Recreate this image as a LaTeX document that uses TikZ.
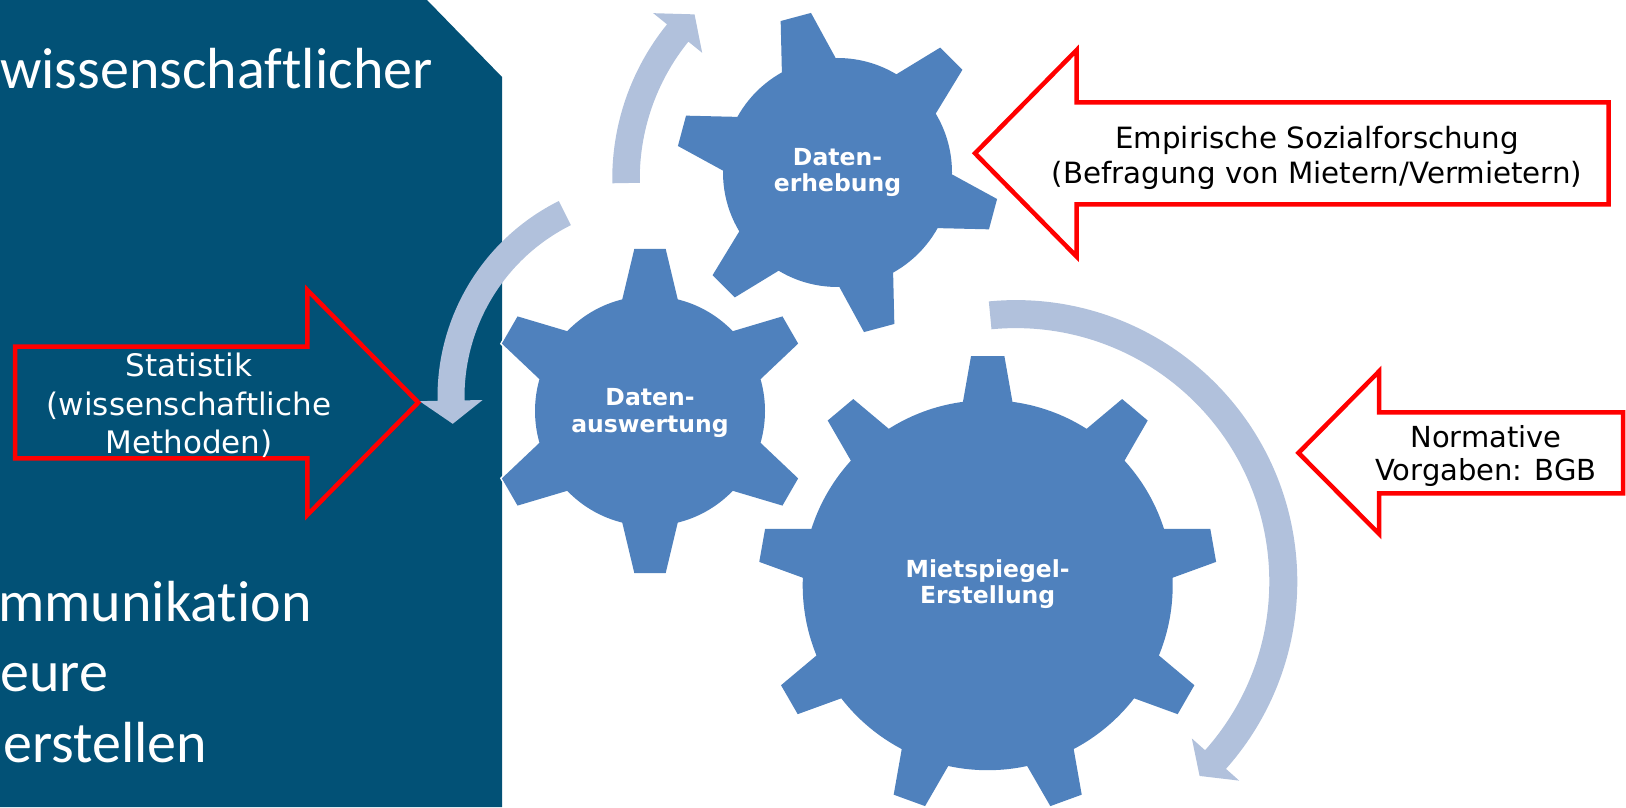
\documentclass[tikz,border=0pt]{standalone}
\usepackage{fontspec}
\setmainfont{DejaVu Sans}
\newfontfamily\slidefont[Ligatures=NoCommon]{Carlito}
\usetikzlibrary{calc}
\definecolor{panel}{RGB}{2,81,118}
\definecolor{gearblue}{RGB}{79,129,189}
\definecolor{cyclefill}{RGB}{177,193,220}
\definecolor{inputred}{RGB}{255,0,0}

\tikzset{
  gearrim/.style={fill=white, draw=white, line width=3pt},
  gearbody/.style={fill=gearblue},
  cyclearrow/.style={fill=cyclefill},
  inputarrow/.style={draw=inputred, line width=4.5pt, line join=miter},
  geartext/.style={text=white, font=\bfseries\fontsize{23.5}{26.7}\selectfont, align=center, inner sep=0pt},
  inputtext/.style={font=\fontsize{29}{33.3}\selectfont, align=center, inner sep=0pt},
  paneltext/.style={text=white, font=\slidefont\fontsize{58}{70}\selectfont, inner sep=0pt, anchor=base west},
}

\begin{document}
\begin{tikzpicture}[x=1pt, y=1pt]
	\useasboundingbox (0,0) rectangle (1626,807);

	% dark panel on the left
	\fill[panel] (0,0) -- (0,807) -- (427,807) -- (502,730) -- (502,0) -- cycle;
	\node[paneltext] (wiss) at (0,718.7) {wissenschaftlicher};
	\node[paneltext] (komm) at (-2,185.3) {mmunikation};
	\node[paneltext] (akt) at (0,115.3) {eure};
	\node[paneltext] (erst) at (3,44.3) {erstellen};

	% cycle arrows
	\begin{scope}[shift={(858,628)}]
		\fill[cyclearrow] (181:245.75) arc[start angle=181, end angle=141, radius=245.75]
			-- (141:263.5) -- (134.8:232) -- (141:200.5) -- (141:218.25)
			arc[start angle=141, end angle=181, radius=218.25] -- cycle;
	\end{scope}

	\begin{scope}[shift={(656.5,410)}]
		\fill[cyclearrow] (116.5:219) arc[start angle=116.5, end angle=181, radius=219]
			-- (181:237) -- (187.5:205.5) -- (181:174) -- (181:192)
			arc[start angle=181, end angle=116.5, radius=192] -- cycle;
	\end{scope}

	\begin{scope}[shift={(1015.8,225.4)}]
		\fill[cyclearrow] (95.5:281.5) arc[start angle=95.5, end angle=-41.7, radius=281.5]
			-- (-41.7:299.2) -- (-46.6:267.5) -- (-41.7:235.8) -- (-41.7:253.5)
			arc[start angle=-41.7, end angle=95.5, radius=253.5] -- cycle;
	\end{scope}

	% gears
	\begin{scope}[shift={(837.5,634.5)}]
		\foreach \a in {105,165,...,405}
			\fill[gearrim, rotate=\a] (100,-30.5) -- (161,-15.7) -- (161,15.7) -- (100,30.5) -- cycle;
		\fill[gearrim] (0,0) circle[radius=114.5];
		\foreach \a in {105,165,...,405}
			\fill[gearbody, rotate=\a] (100,-30.5) -- (161,-15.7) -- (161,15.7) -- (100,30.5) -- cycle;
		\fill[gearbody] (0,0) circle[radius=114.5];
		\node[geartext] (erhebung) at (0,0) {Daten-\\erhebung};
	\end{scope}

	\begin{scope}[shift={(650,396)}]
		\foreach \a in {30,90,...,330}
			\fill[gearrim, rotate=\a] (100,-30.5) -- (162,-15.7) -- (162,15.7) -- (100,30.5) -- cycle;
		\fill[gearrim] (0,0) circle[radius=115];
		\foreach \a in {30,90,...,330}
			\fill[gearbody, rotate=\a] (100,-30.5) -- (162,-15.7) -- (162,15.7) -- (100,30.5) -- cycle;
		\fill[gearbody] (0,0) circle[radius=115];
		\node[geartext] (auswertung) at (0,-2) {Daten-\\auswertung};
	\end{scope}

	\begin{scope}[shift={(987.7,221.8)}]
		\foreach \a in {10,50,...,330}
			\fill[gearrim, rotate=\a] (170,-27.1) -- (229,-16.7) -- (229,16.7) -- (170,27.1) -- cycle;
		\fill[gearrim] (0,0) circle[radius=185];
		\foreach \a in {10,50,...,330}
			\fill[gearbody, rotate=\a] (170,-27.1) -- (229,-16.7) -- (229,16.7) -- (170,27.1) -- cycle;
		\fill[gearbody] (0,0) circle[radius=185];
		\node[geartext] (mietspiegel) at (0,1) {Mietspiegel-\\Erstellung};
	\end{scope}

	% red input arrows
	\draw[inputarrow] (15,348.7) -- (307.3,348.7) -- (307.3,292) -- (418.3,404.5)
		-- (307.3,517) -- (307.3,460.3) -- (15,460.3) -- cycle;
	\node[inputtext, text=white, font=\fontsize{31}{38.3}\selectfont] (statistik) at (189,401.7)
		{Statistik\\(wissenschaftliche\\Methoden)};

	\draw[inputarrow, fill=white] (975,653.7) -- (1076.7,757) -- (1076.7,704.7) -- (1608.7,704.7)
		-- (1608.7,602.7) -- (1076.7,602.7) -- (1076.7,550.3) -- cycle;
	\node[inputtext, font=\fontsize{29.3}{35}\selectfont] (empirie) at (1317,649.5)
		{Empirische Sozialforschung\\(Befragung von Mietern/Vermietern)};

	\draw[inputarrow, fill=white] (1298.5,354.1) -- (1379.2,435.8) -- (1379.2,394.7) -- (1623,394.7)
		-- (1623,313.7) -- (1379.2,313.7) -- (1379.2,273) -- cycle;
	\node[inputtext] (normen) at (1486,350.9) {Normative\\Vorgaben: BGB};

\end{tikzpicture}
\end{document}
